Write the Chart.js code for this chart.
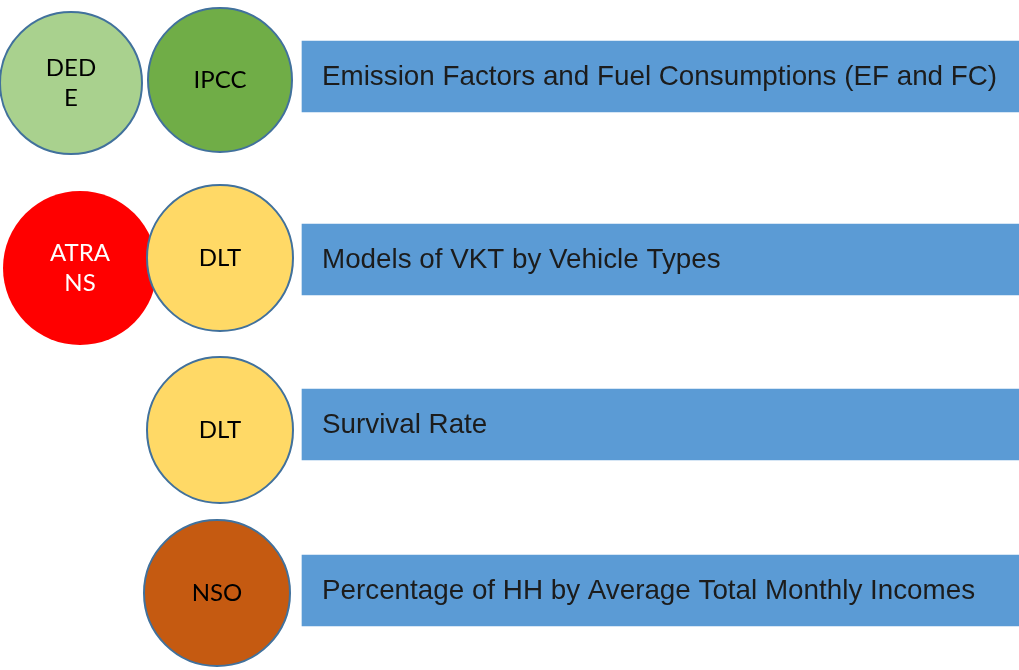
<!DOCTYPE html>
<html>
<head>
<meta charset="utf-8">
<script src="https://cdn.jsdelivr.net/npm/chart.js@4.4.0/dist/chart.umd.min.js"></script>
<style>
  html, body { margin: 0; padding: 0; background: #fff; }
  #wrap { width: 1019px; height: 670px; }
</style>
</head>
<body>
<div id="wrap"><canvas id="diagram" width="1019" height="670"></canvas></div>
<script>
// data sources (circles)
const sources = ['DED\nE', 'IPCC', 'ATRA\nNS', 'DLT', 'DLT', 'NSO'];
const sourceX = [71, 220, 80, 220, 220, 217];
const sourceY = [83, 80, 268, 258, 430, 593];
const sourceR = [71, 72, 77, 73, 73, 73];
const sourceColors = ['#A9D18E', '#70AD47', '#FF0000', '#FFD966', '#FFD966', '#C55A11'];
const sourceText = ['#000', '#000', '#fff', '#000', '#000', '#000'];

// data items (bars)
const items = [
    'Emission Factors and Fuel Consumptions (EF and FC)',
    'Models of VKT by Vehicle Types',
    'Survival Rate',
    'Percentage of HH by Average Total Monthly Incomes'
];
const itemRow = [76.5, 259.5, 424.5, 590.5];
const itemStart = [302, 302, 302, 302];
const itemEnd = [1019, 1019, 1019, 1019];

const labelPlugin = {
    id: 'labels',
    afterDatasetsDraw(chart) {
        const ctx = chart.ctx;
        ctx.save();
        ctx.textBaseline = 'middle';

        const bars = chart.getDatasetMeta(0).data;
        ctx.font = '27.8px "Liberation Sans", Arial, sans-serif';
        ctx.fillStyle = '#1c1c1c';
        ctx.textAlign = 'left';
        bars.forEach((bar, i) => {
            ctx.fillText(items[i], bar.base + 20, bar.y + 1);
        });

        const dots = chart.getDatasetMeta(1).data;
        ctx.font = '24px Lato, "Open Sans", sans-serif';
        ctx.textAlign = 'center';
        dots.forEach((pt, i) => {
            const lines = sources[i].split('\n');
            const lh = 30;
            const top = pt.y - (lines.length - 1) * lh / 2;
            ctx.fillStyle = sourceText[i];
            lines.forEach((l, j) => ctx.fillText(l, pt.x, top + j * lh));
        });
        ctx.restore();
    }
};

new Chart(document.getElementById('diagram').getContext('2d'), {
    type: 'bar',
    data: {
        datasets: [{
            type: 'bar',
            indexAxis: 'y',
            data: items.map((_, i) => ({ x: [itemStart[i], itemEnd[i]], y: itemRow[i] })),
            backgroundColor: '#5B9BD5',
            borderWidth: 0,
            barThickness: 71
        }, {
            type: 'bubble',
            data: sources.map((_, i) => ({ x: sourceX[i], y: sourceY[i], r: sourceR[i] })),
            backgroundColor: sourceColors,
            borderColor: sourceColors.map(c => c === '#FF0000' ? '#FF0000' : '#41719C'),
            borderWidth: sourceColors.map(c => c === '#FF0000' ? 0 : 2)
        }]
    },
    options: {
        responsive: false,
        animation: false,
        events: [],
        layout: { padding: 0, autoPadding: false },
        plugins: { legend: { display: false }, tooltip: { enabled: false } },
        scales: {
            x: { type: 'linear', min: 0, max: 1019, offset: false, display: false },
            y: { type: 'linear', min: 0, max: 670, reverse: true, offset: false, display: false }
        }
    },
    plugins: [labelPlugin]
});
</script>
</body>
</html>
